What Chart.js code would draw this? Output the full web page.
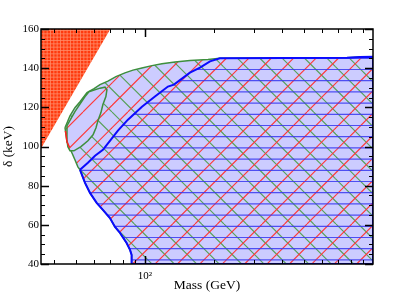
<!DOCTYPE html>
<html>
<head>
<meta charset="utf-8">
<script src="https://cdn.jsdelivr.net/npm/chart.js@4.4.0/dist/chart.umd.min.js"></script>
<style>
  html, body { margin: 0; padding: 0; background: #fff; }
  #wrap { width: 415px; height: 294px; }
</style>
</head>
<body>
<div id="wrap"><canvas id="chart" width="415" height="294"></canvas></div>
<script>
// excluded region (top left)
const triangleMass = [35, 70.5, 35, 35];
const triangleDelta = [99, 160, 160, 99];

// allowed region, outer contour
const outerMass = [44.6, 46.9, 49.3, 51.9, 55.7, 59.8, 63.5, 68.8, 74.6, 81.7, 88.6, 97.0, 107.3, 118.7, 135.4, 157.5, 189, 213, 769, 877, 1000, 1000, 87.4, 87.4, 86.0, 83.1, 77.7, 73.9, 70.2, 65.4, 61.4, 57.4, 54.6, 51.9, 50.8, 49.3, 47.8, 45.5, 44.6];
const outerDelta = [109.6, 115.7, 119.8, 122.9, 127.5, 129.5, 131.6, 133.4, 135.7, 137.6, 139.0, 140.1, 141.3, 142.3, 143.1, 143.9, 144.4, 145.1, 145.3, 145.7, 145.8, 40, 40, 44.6, 47.2, 50.7, 55.9, 58.9, 63.5, 67.6, 71.2, 76.3, 81.4, 88.1, 89.6, 93.2, 96.8, 102.4, 109.6];

// blue contour
const blueMass = [51.9, 56.2, 60.4, 65.4, 70.2, 76.1, 84.2, 97.0, 110.6, 126.1, 134.0, 139.5, 157.5, 174.3, 192.8, 213, 769, 877, 1000, 1000, 87.4, 87.4, 86.0, 83.1, 77.7, 73.9, 70.2, 65.4, 61.4, 57.4, 54.6, 51.9];
const blueDelta = [88.1, 91.7, 95.3, 98.3, 102.9, 108.1, 113.7, 120.3, 125.5, 130.6, 131.6, 133.1, 137.7, 140.3, 143.5, 145.1, 145.3, 145.7, 145.8, 40, 40, 44.6, 47.2, 50.7, 55.9, 58.9, 63.5, 67.6, 71.2, 76.3, 81.4, 88.1];

// small green loop (no green hatch inside)
const loopMass = [45.5, 45.5, 49.3, 54.6, 56.8, 63.5, 66.8, 68.1, 67.4, 65.4, 64.1, 62.2, 61.0, 59.2, 56.2, 52.4, 48.8, 46.9, 45.9, 45.5];
const loopDelta = [103.4, 110.6, 117.8, 125.5, 128.0, 129.8, 130.3, 129.0, 125.5, 121.4, 117.3, 113.2, 109.6, 106.0, 102.9, 99.9, 97.8, 97.8, 99.9, 103.4];

// short red piece of the outer edge
const redEdgeMass = [44.8, 45.5, 46.7];
const redEdgeDelta = [108.0, 102.4, 99.5];

// tick marks
const xMajor = [100];
const xMinor = [40, 50, 60, 70, 80, 90, 200, 300, 400, 500, 600, 700, 800, 900];
const yMajor = [40, 60, 80, 100, 120, 140, 160];
const yMinor = [45, 50, 55, 65, 70, 75, 85, 90, 95, 105, 110, 115, 125, 130, 135, 145, 150, 155];

const pts = (xs, ys) => xs.map((v, i) => ({x: v, y: ys[i]}));

// hatch patterns, 112px tile (5 x 22.4 diagonals, 10 x 11.2 horizontals)
function hatch(bg, red, green, blue) {
  const T = 112;
  const c = document.createElement('canvas');
  c.width = T; c.height = T;
  const g = c.getContext('2d');
  if (bg) { g.fillStyle = bg; g.fillRect(0, 0, T, T); }
  g.lineWidth = 1.1;
  if (green) {
    g.strokeStyle = 'rgb(85,160,85)';
    for (let k = -6; k <= 6; k++) {
      const c0 = k * 22.4;
      g.beginPath(); g.moveTo(c0, 0); g.lineTo(c0 + T, T); g.stroke();
    }
  }
  if (red) {
    g.strokeStyle = 'rgb(255,55,55)';
    for (let k = -1; k <= 11; k++) {
      const c0 = 15.8 + k * 22.4;
      g.beginPath(); g.moveTo(c0, 0); g.lineTo(c0 - T, T); g.stroke();
    }
  }
  if (blue) {
    g.strokeStyle = 'rgba(55,55,240,0.85)';
    g.lineWidth = 1.2;
    for (let j = 0; j < 10; j++) {
      const y = 2.3 + j * 11.2;
      g.beginPath(); g.moveTo(0, y); g.lineTo(T, y); g.stroke();
    }
  }
  return g.createPattern(c, 'repeat');
}

function dots() {
  const c = document.createElement('canvas');
  c.width = 10; c.height = 10;
  const g = c.getContext('2d');
  g.fillStyle = '#ff3a0e';
  g.fillRect(0, 0, 10, 10);
  g.strokeStyle = 'rgba(255,140,105,0.8)';
  g.lineWidth = 1;
  [0.5, 3.83, 7.17].forEach(p => {
    g.beginPath(); g.moveTo(p, 0); g.lineTo(p, 10); g.stroke();
    g.beginPath(); g.moveTo(0, p); g.lineTo(10, p); g.stroke();
  });
  return g.createPattern(c, 'repeat');
}

const frameTicks = {
  id: 'frameTicks',
  afterDatasetsDraw(chart) {
    const {ctx, chartArea: a, scales: {x, y}} = chart;
    ctx.save();
    ctx.strokeStyle = '#000';
    const drawX = (vals, len, w) => {
      ctx.lineWidth = w;
      ctx.beginPath();
      vals.forEach(v => {
        const p = Math.round(x.getPixelForValue(v)) + 0.5;
        ctx.moveTo(p, a.bottom); ctx.lineTo(p, a.bottom - len);
        ctx.moveTo(p, a.top); ctx.lineTo(p, a.top + len);
      });
      ctx.stroke();
    };
    const drawY = (vals, len, w) => {
      ctx.lineWidth = w;
      ctx.beginPath();
      vals.forEach(v => {
        const p = Math.round(y.getPixelForValue(v)) + 0.5;
        ctx.moveTo(a.left, p); ctx.lineTo(a.left + len, p);
        ctx.moveTo(a.right, p); ctx.lineTo(a.right - len, p);
      });
      ctx.stroke();
    };
    drawX(xMinor, 4, 1);
    drawX(xMajor, 8, 1.5);
    drawY(yMinor, 4, 1);
    drawY(yMajor, 8, 1.5);
    ctx.lineWidth = 1.5;
    ctx.strokeRect(a.left, a.top, a.right - a.left, a.bottom - a.top);
    ctx.restore();
  }
};

const serif = 'Liberation Serif';

new Chart(document.getElementById('chart'), {
  type: 'scatter',
  data: {
    datasets: [
      {
        data: pts(redEdgeMass, redEdgeDelta),
        showLine: true, fill: false,
        borderColor: '#ff2020', borderWidth: 1.5,
        pointRadius: 0, order: 1
      },
      {
        data: pts(triangleMass, triangleDelta),
        showLine: true, fill: 'shape',
        backgroundColor: dots(), borderWidth: 0, borderColor: 'rgba(0,0,0,0)',
        pointRadius: 0, order: 2
      },
      {
        data: pts(blueMass, blueDelta),
        showLine: true, fill: 'shape',
        backgroundColor: hatch(null, false, false, true),
        borderColor: '#0a0aff', borderWidth: 2,
        pointRadius: 0, order: 3
      },
      {
        data: pts(loopMass, loopDelta),
        showLine: true, fill: 'shape',
        backgroundColor: hatch('#ccccff', true, false, false),
        borderColor: '#3d8f3d', borderWidth: 1.5,
        pointRadius: 0, order: 4
      },
      {
        data: pts(outerMass, outerDelta),
        showLine: true, fill: 'shape',
        backgroundColor: hatch('#ccccff', true, true, false),
        borderColor: '#3d8f3d', borderWidth: 1.5,
        pointRadius: 0, order: 5
      }
    ]
  },
  options: {
    responsive: false,
    devicePixelRatio: 1,
    animation: false,
    events: [],
    layout: { padding: { left: 0, right: 42, top: 29, bottom: 0 } },
    plugins: {
      legend: { display: false },
      tooltip: { enabled: false }
    },
    scales: {
      x: {
        type: 'logarithmic',
        min: 35, max: 1000,
        grid: { display: false, drawTicks: false },
        border: { display: false },
        ticks: {
          autoSkip: false, maxRotation: 0, padding: 6,
          color: '#000', font: { family: serif, size: 11 },
          callback: v => (v === 100 ? '10\u00b2' : '')
        },
        title: {
          display: true, text: 'Mass (GeV)', color: '#000',
          font: { family: serif, size: 13.5 },
          padding: { top: 0, bottom: 0 }
        },
        afterFit: s => { s.height = 30; }
      },
      y: {
        min: 40, max: 160,
        grid: { display: false, drawTicks: false },
        border: { display: false },
        ticks: {
          stepSize: 20, padding: 2,
          color: '#000', font: { family: serif, size: 11 }
        },
        title: {
          display: true, text: '\u03b4 (keV)', color: '#000',
          font: { family: serif, size: 13.5 },
          padding: { top: 0, bottom: 0 }
        },
        afterFit: s => { s.width = 41; }
      }
    }
  },
  plugins: [frameTicks]
});
</script>
</body>
</html>
